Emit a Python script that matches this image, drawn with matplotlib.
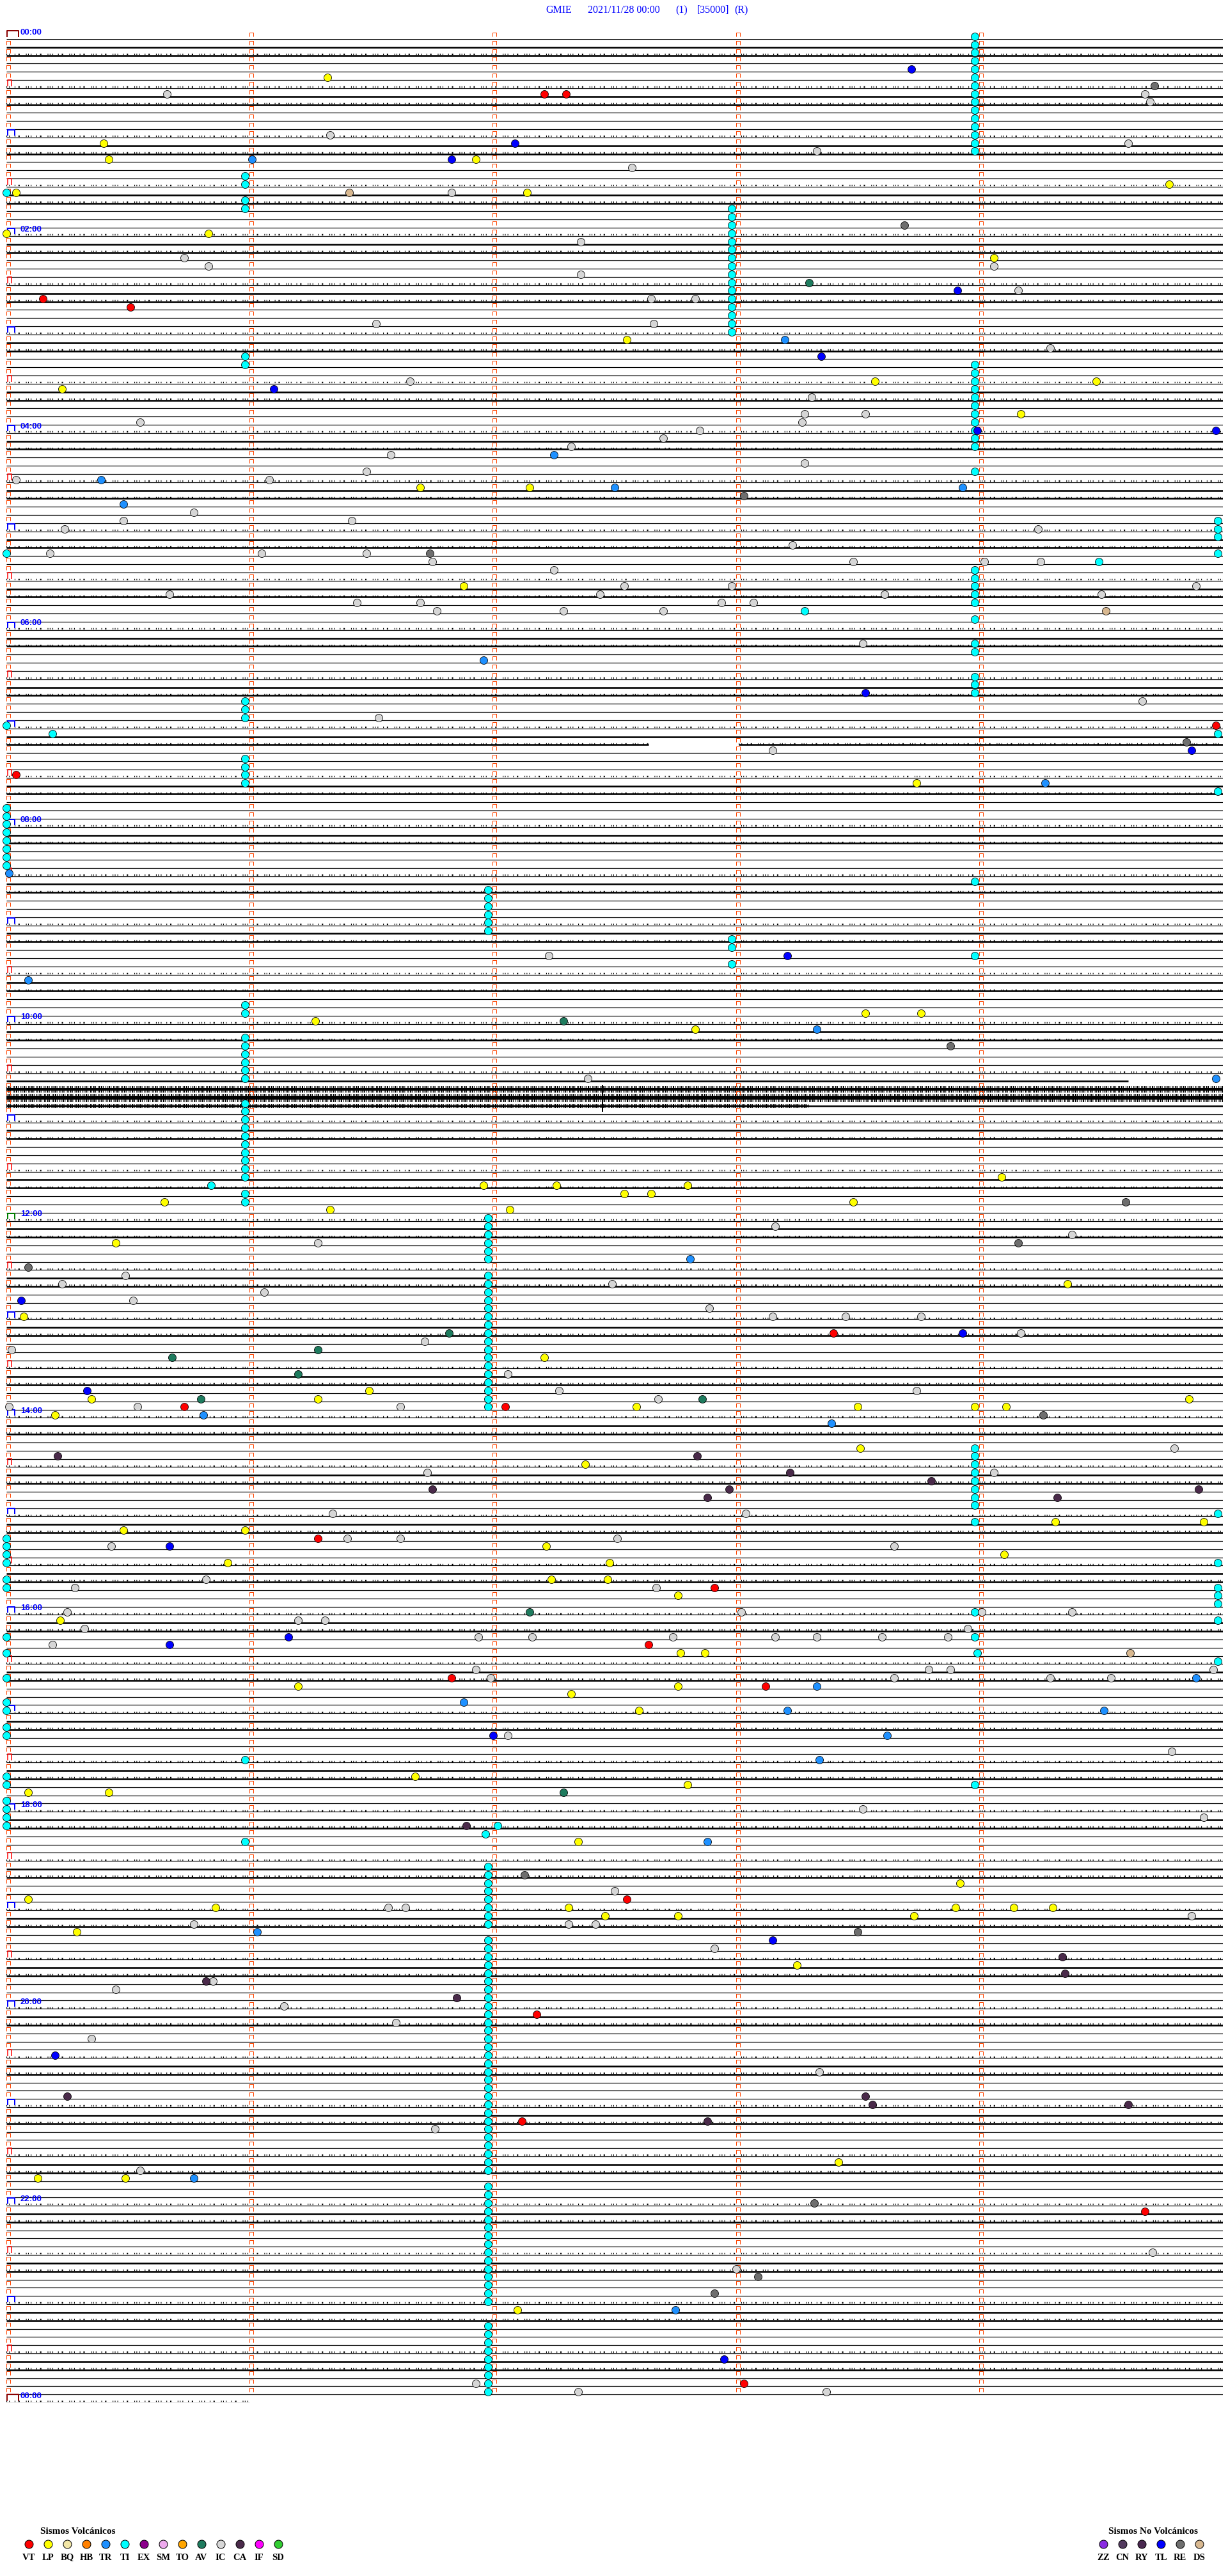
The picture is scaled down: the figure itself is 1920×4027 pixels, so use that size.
import matplotlib
matplotlib.use("Agg")
from matplotlib import pyplot as plt
from matplotlib.path import Path
from matplotlib.collections import LineCollection

plt.rcParams['lines.scale_dashes'] = False

# ---------------- data ----------------
station = "GMIE"
day_start = "2021/11/28 00:00"
title_bits = ["(1)", "[35000]", "(R)"]

n_lines = 288            # 24 h of 5 minute traces
line_minutes = 5
last_trace_end = 1.0     # the 00:00 trace of next day is only 1 minute long
trace_gaps = {86: (2.64, 3.01), 127: (4.61, 5.0)}
# noisy traces: (core px, fuzz px, minute where the noise stops)
noisy_lines = {128: (4, 10, 5.0), 129: (6, 13, 5.0), 130: (2.5, 6, 3.3)}
spike = (129, 2.45)

# events: (trace index, minute inside trace)
vt_events = [(7, 2.21), (7, 2.30), (32, 0.15), (33, 0.51), (84, 4.97), (90, 0.04), (158, 3.40),
             (167, 0.73), (167, 2.05), (183, 1.28), (189, 2.91), (196, 2.64), (200, 1.83),
             (201, 3.12), (227, 2.55), (241, 2.18), (254, 2.12), (265, 4.68), (286, 3.03)]
lp_events = [(5, 1.32), (13, 0.40), (15, 0.42), (15, 1.93), (18, 4.78), (19, 0.04), (19, 2.14),
             (24, 0.0), (24, 0.83), (27, 4.06), (37, 2.55), (42, 3.57), (42, 4.48), (43, 0.23),
             (46, 4.17), (55, 1.70), (55, 2.15), (67, 1.88), (91, 3.74), (119, 3.53), (119, 3.76),
             (120, 1.27), (121, 2.83), (139, 4.09), (140, 1.96), (140, 2.26), (140, 2.80),
             (141, 2.54), (141, 2.65), (142, 0.65), (142, 3.48), (143, 1.33), (143, 2.07),
             (147, 0.45), (152, 4.36), (156, 0.07), (161, 2.21), (165, 1.49), (166, 0.35),
             (166, 1.28), (166, 4.86), (167, 2.59), (167, 3.50), (167, 3.98), (167, 4.11),
             (168, 0.20), (172, 3.51), (174, 2.38), (181, 4.31), (181, 4.92), (182, 0.48),
             (182, 0.98), (184, 2.22), (185, 4.10), (186, 0.91), (186, 2.48), (188, 2.24),
             (188, 2.47), (190, 2.76), (193, 0.22), (197, 2.77), (197, 2.87), (201, 1.20),
             (201, 2.76), (202, 2.32), (204, 2.60), (212, 1.68), (213, 2.80), (214, 0.09),
             (214, 0.42), (220, 2.35), (225, 3.92), (227, 0.09), (228, 0.86), (228, 2.31),
             (228, 3.90), (228, 4.14), (228, 4.30), (229, 2.46), (229, 2.76), (229, 3.73),
             (231, 0.29), (235, 3.25), (259, 3.42), (261, 0.13), (261, 0.49), (277, 2.10)]
tr_events = [(15, 1.01), (37, 3.20), (51, 2.25), (54, 0.39), (55, 2.50), (55, 3.93), (57, 0.48),
             (76, 1.96), (91, 4.27), (102, 0.01), (115, 0.09), (121, 3.33), (127, 4.97),
             (149, 2.81), (168, 0.81), (169, 3.39), (200, 4.89), (201, 3.33), (203, 1.88),
             (204, 3.21), (204, 4.51), (207, 3.62), (210, 3.34), (220, 2.88), (231, 1.03),
             (261, 0.77), (277, 2.75)]
tl_events = [(4, 3.72), (13, 2.09), (15, 1.83), (31, 3.91), (39, 3.35), (43, 1.10), (48, 3.99),
             (48, 4.97), (80, 3.53), (87, 4.87), (112, 3.21), (154, 0.06), (158, 3.93),
             (165, 0.33), (184, 0.67), (195, 1.16), (196, 0.67), (207, 2.00), (232, 3.15),
             (246, 0.20), (283, 2.95)]
av_events = [(30, 3.30), (120, 2.29), (158, 1.82), (160, 1.28), (161, 0.68), (163, 1.20),
             (166, 0.80), (166, 2.86), (192, 2.15), (214, 2.29)]
re_events = [(6, 4.72), (23, 3.69), (56, 3.03), (63, 1.74), (86, 4.85), (123, 3.88), (142, 4.60),
             (147, 4.16), (150, 0.09), (168, 4.26), (224, 2.13), (231, 3.50), (264, 3.32),
             (273, 3.09), (275, 2.91)]
ca_events = [(173, 0.21), (173, 2.84), (175, 3.22), (176, 3.80), (177, 1.75), (177, 2.97),
             (177, 4.90), (178, 2.88), (178, 4.32), (218, 1.89), (234, 4.34), (236, 4.35),
             (237, 0.82), (239, 1.85), (251, 0.25), (251, 3.53), (252, 3.56), (252, 4.61),
             (254, 2.88)]
ds_events = [(19, 1.41), (70, 4.52), (197, 4.62)]
ic_events = [(7, 0.66), (7, 4.68), (8, 4.70), (12, 1.33), (13, 4.61), (14, 3.33), (16, 2.57),
             (19, 1.83), (25, 2.36), (27, 0.73), (28, 0.83), (28, 4.06), (29, 2.36), (31, 4.16),
             (32, 2.65), (32, 2.83), (35, 1.52), (35, 2.66), (38, 4.29), (42, 1.66), (44, 3.31),
             (46, 3.28), (46, 3.53), (47, 0.55), (47, 3.27), (48, 2.85), (49, 2.70), (50, 2.32),
             (51, 1.58), (52, 3.28), (53, 1.48), (54, 0.04), (54, 1.08), (58, 0.77), (59, 0.48),
             (59, 1.42), (60, 0.24), (60, 4.24), (62, 3.23), (63, 0.18), (63, 1.05), (63, 1.48),
             (64, 1.75), (64, 3.48), (64, 4.02), (64, 4.25), (65, 2.25), (67, 2.54), (67, 2.98),
             (67, 4.89), (68, 0.67), (68, 2.44), (68, 3.61), (68, 4.50), (69, 1.44), (69, 1.70),
             (69, 2.94), (69, 3.07), (70, 1.77), (70, 2.29), (70, 2.70), (74, 3.52), (81, 4.67),
             (83, 1.53), (87, 3.15), (112, 2.23), (127, 2.39), (145, 3.16), (146, 4.38),
             (147, 1.28), (151, 0.49), (152, 0.23), (152, 2.49), (153, 1.06), (154, 0.52),
             (155, 2.89), (156, 3.15), (156, 3.45), (156, 3.76), (158, 4.17), (159, 1.72),
             (160, 0.02), (163, 2.06), (165, 2.27), (165, 3.74), (166, 2.68), (167, 0.01),
             (167, 0.54), (167, 1.62), (172, 4.80), (175, 1.73), (175, 4.06), (180, 1.34),
             (180, 3.04), (183, 1.40), (183, 1.62), (183, 2.51), (184, 0.43), (184, 3.65),
             (188, 0.82), (189, 0.28), (189, 2.67), (192, 0.25), (192, 3.02), (192, 4.01),
             (192, 4.38), (193, 1.20), (193, 1.31), (194, 0.32), (194, 3.95), (195, 1.94),
             (195, 2.16), (195, 2.74), (195, 3.16), (195, 3.33), (195, 3.60), (195, 3.87),
             (196, 0.19), (199, 1.93), (199, 3.79), (199, 3.88), (199, 4.96), (200, 1.99),
             (200, 3.65), (200, 4.29), (200, 4.54), (207, 2.06), (209, 4.79), (216, 3.52),
             (217, 4.92), (226, 2.50), (228, 1.57), (228, 1.64), (229, 4.87), (230, 0.77),
             (230, 2.31), (230, 2.42), (233, 2.91), (237, 0.85), (238, 0.45), (240, 1.14),
             (242, 1.60), (244, 0.35), (248, 3.34), (255, 1.76), (260, 0.55), (270, 4.71),
             (272, 3.00), (286, 1.93), (287, 2.35), (287, 3.37)]
# TI (tremor) runs: (first trace, last trace, minute)
ti_runs = [(0, 14, 3.98), (17, 18, 0.98), (19, 19, 0.0), (20, 21, 0.98), (21, 36, 2.98),
           (39, 40, 0.98), (40, 50, 3.98), (53, 53, 3.98), (59, 61, 4.98), (63, 63, 0.0),
           (63, 63, 4.98), (64, 64, 4.49), (65, 69, 3.98), (70, 70, 3.28), (71, 71, 3.98),
           (74, 75, 3.98), (78, 80, 3.98), (81, 83, 0.98), (84, 84, 0.0), (85, 85, 0.19),
           (85, 85, 4.98), (88, 91, 0.98), (92, 92, 4.98), (94, 101, 0.0), (103, 103, 3.98),
           (104, 109, 1.98), (110, 111, 2.98), (112, 112, 3.98), (113, 113, 2.98),
           (118, 119, 0.98), (122, 127, 0.98), (130, 139, 0.98), (140, 140, 0.84),
           (141, 142, 0.98), (144, 149, 1.98), (151, 167, 1.98), (172, 179, 3.98),
           (180, 180, 4.98), (181, 181, 3.98), (183, 186, 0.0), (186, 186, 4.98), (188, 189, 0.0),
           (189, 191, 4.98), (192, 192, 3.98), (193, 193, 4.98), (195, 195, 0.0),
           (195, 195, 3.98), (197, 197, 0.0), (197, 197, 3.99), (198, 198, 4.98), (200, 200, 0.0),
           (203, 204, 0.0), (206, 207, 0.0), (210, 210, 0.98), (212, 213, 0.0), (213, 213, 3.98),
           (215, 218, 0.0), (218, 218, 2.02), (219, 219, 1.97), (220, 220, 0.98),
           (223, 230, 1.98), (232, 260, 1.98), (262, 276, 1.98), (279, 287, 1.98)]

volc_codes = ["VT", "LP", "BQ", "HB", "TR", "TI", "EX", "SM", "TO", "AV", "IC", "CA", "IF", "SD"]
volc_colors = ["#ff0000", "#ffff00", "#f2e6a6", "#ff8000", "#1e90ff", "#00ffff", "#8b008b",
               "#eeaaee", "#ffa500", "#1e7b5e", "#d6d6d6", "#4a2a4a", "#ff00ff", "#32cd32"]
novolc_codes = ["ZZ", "CN", "RY", "TL", "RE", "DS"]
novolc_colors = ["#8a2be2", "#523a5e", "#4a2850", "#0000ff", "#6e6e6e", "#d8b890"]
color_of = dict(zip(volc_codes + novolc_codes, volc_colors + novolc_colors))

# ---------------- layout ----------------
W, H = 1920, 4027
X0, PX_MIN = 10, 380.4         # px of minute 0, px per minute
Y0, DY = 61, 12.83             # px of first trace, px between traces
PT = 0.72                      # points per pixel at dpi 100

fig = plt.figure(figsize=(W / 100, H / 100), dpi=100)
fig.patch.set_facecolor("white")
ov = fig.add_axes([0, 0, 1, 1])
ov.set_xlim(0, W)
ov.set_ylim(H, 0)
ov.axis("off")

ax = fig.add_axes([X0 / W, 1 - (Y0 + n_lines * DY) / H, line_minutes * PX_MIN / W, n_lines * DY / H])
ax.set_xlim(0, line_minutes)
ax.set_ylim(n_lines, 0)
ax.axis("off")

# traces
tick_style = [(0, (0.8, 2.2, 0.8, 5.5, 0.8, 3.4, 1.5, 7.0, 0.8, 1.6))]
fuzz_style = [(0, (0.8, 1.2, 1.5, 0.9, 0.8, 2.0, 0.8, 0.7))]
thin, thick, ticks = [], [], []
for k in range(n_lines + 1):
    if k in noisy_lines:
        continue
    end = line_minutes if k < n_lines else last_trace_end
    parts = [(0, end)]
    if k in trace_gaps:
        a, b = trace_gaps[k]
        parts = [(0, a)] + ([(b, end)] if b < end else [])
    slot = k % 6
    for a, b in parts:
        seg = [(a, k), (b, k)]
        if slot in (1, 2):
            thick.append(seg)
        else:
            thin.append(seg)
        if slot in (0, 2):
            ticks.append([(a, k - 0.13), (b, k - 0.13)])

ax.add_collection(LineCollection(thin, colors="black", linewidths=1.2 * PT))
ax.add_collection(LineCollection(thick, colors="black", linewidths=2.6 * PT))
ax.add_collection(LineCollection(ticks, colors="black", linewidths=2.4 * PT, linestyles=tick_style))
for k, (core, fuzz, stop) in noisy_lines.items():
    ax.plot([0, line_minutes], [k, k], color="black", lw=2.6 * PT, solid_capstyle="butt")
    ax.plot([0, stop], [k, k], color="black", lw=core * PT, solid_capstyle="butt")
    ax.add_collection(LineCollection([[(0, k), (stop, k)]], colors="black",
                                     linewidths=fuzz * PT, linestyles=fuzz_style))
ax.plot([spike[1], spike[1]], [spike[0] - 1.5, spike[0] + 1.6], color="black", lw=2 * PT)


def bracket(w, h):
    return Path([(-w / 2, -h / 2), (-w / 2, h / 2), (w / 2, h / 2), (w / 2, -h / 2)])


# minute marks
small = bracket(6, 6)
off = 2.5 / PX_MIN
for m in range(line_minutes):
    ks = [k for k in range(n_lines) if not (m == 0 and k % 6 == 0)]
    ax.plot([m + off] * len(ks), [k - 0.55 for k in ks], ls="none", marker=small,
            ms=6 * PT, mfc="none", mec="#ff4500", mew=1.0 * PT, clip_on=False)

for k in range(0, n_lines + 1, 6):
    if k in (0, n_lines):
        col, w, h, lw = "#8b0000", 18, 10, 2.0
    elif k == 144:
        col, w, h, lw = "#008000", 11, 9, 2.0
    elif k % 12 == 0:
        col, w, h, lw = "#0000ff", 11, 9, 2.0
    else:
        col, w, h, lw = "#ff0000", 7, 10, 1.5
    ax.plot([(w / 2 + 1) / PX_MIN], [k - 0.62], ls="none", marker=bracket(w, h),
            ms=max(w, h) * PT, mfc="none", mec=col, mew=lw * PT, clip_on=False)

for hr in range(0, 25, 2):
    ax.text(22 / PX_MIN, 12 * hr - 0.8, "%02d:00" % (hr % 24), color="#0000ff",
            fontsize=9.5, fontweight="bold", family="Liberation Sans", va="center", ha="left")

# events
ti_events = []
for first, last, m in ti_runs:
    ti_events += [(k, m) for k in range(first, last + 1)]

for code, evs in [("TI", ti_events), ("IC", ic_events), ("DS", ds_events), ("RE", re_events),
                  ("CA", ca_events), ("AV", av_events), ("TR", tr_events), ("LP", lp_events),
                  ("VT", vt_events), ("TL", tl_events)]:
    ax.plot([m for k, m in evs], [k - 0.33 for k, m in evs], ls="none", marker="o",
            ms=12 * PT, mfc=color_of[code], mec="black", mew=0.8 * PT, clip_on=False)

# title
serif = "Liberation Serif"
for x, s in zip([853, 919, 1056, 1090, 1148], [station, day_start] + title_bits):
    ov.text(x, 16, s, color="#0000ff", fontsize=11.5, family=serif, va="center", ha="left")

# legends
ov.text(63, 3957, "Sismos Volcánicos", fontsize=11, fontweight="bold", family=serif,
        va="center", ha="left")
ov.text(1733, 3957, "Sismos No Volcánicos", fontsize=11, fontweight="bold", family=serif,
        va="center", ha="left")
for x_start, codes in [(45, volc_codes), (1725, novolc_codes)]:
    xs = [x_start + 30 * i for i in range(len(codes))]
    for x, c in zip(xs, codes):
        ov.plot([x], [3977], ls="none", marker="o", ms=13 * PT, mfc=color_of[c],
                mec="black", mew=1.0 * PT)
        ov.text(x, 3998, c, fontsize=10.5, fontweight="bold", family=serif,
                va="center", ha="center")

fig.savefig("out.png", dpi=100, facecolor="white")
